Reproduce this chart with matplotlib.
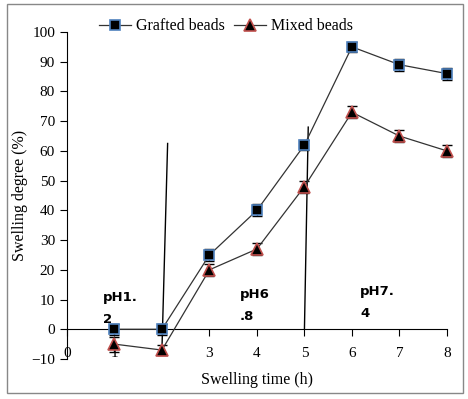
import numpy as np
import matplotlib.pyplot as plt
from matplotlib.patches import Rectangle

# swelling data
t = [1, 2, 3, 4, 5, 6, 7, 8]
grafted = [0, 0, 25, 40, 62, 95, 89, 86]
grafted_err = [1.8, 1.8, 2, 2, 1.8, 1.8, 2, 2]
mixed = [-5, -7, 20, 27, 48, 73, 65, 60]
mixed_err = [2.5, 1.8, 2, 2, 2, 2, 2, 2]

xticks = [0, 1, 2, 3, 4, 5, 6, 7, 8]
xtick_labels = ['0', '1', '', '3', '4', '5', '6', '7', '8']
yticks = [-10, 0, 10, 20, 30, 40, 50, 60, 70, 80, 90, 100]

# pH boundary lines (slightly slanted in the original)
ph_line1_x = [2.0, 2.12]
ph_line1_y = [-7, 62.5]
ph_line2_x = [5.0, 5.08]
ph_line2_y = [0, 68]

ph_labels = ['pH1.\n2', 'pH6\n.8', 'pH7.\n4']
ph_pos = [(0.76, 7.0), (3.64, 8.0), (6.17, 9.0)]

plt.rcParams['font.family'] = ['Liberation Serif', 'DejaVu Serif']

fig = plt.figure(figsize=(4.68, 3.99), dpi=100)
ax = fig.add_axes([0.143, 0.1003, 0.812, 0.8195])

ax.plot(ph_line1_x, ph_line1_y, color='black', lw=1, zorder=1)
ax.plot(ph_line2_x, ph_line2_y, color='black', lw=1, zorder=1)

ax.errorbar(t, grafted, yerr=grafted_err, fmt='none', ecolor='black',
            elinewidth=1, capsize=3.5, capthick=1, zorder=3, clip_on=False)
ax.errorbar(t, mixed, yerr=mixed_err, fmt='none', ecolor='black',
            elinewidth=1, capsize=3.5, capthick=1, zorder=3, clip_on=False)
ax.plot(t, grafted, color='#333333', lw=0.9, marker='s', ms=7,
        mfc='black', mec='#4F81BD', mew=1.2, label='Grafted beads',
        zorder=4, clip_on=False)
ax.plot(t, mixed, color='#333333', lw=0.9, marker='^', ms=8,
        mfc='black', mec='#C0504D', mew=1.2, label='Mixed beads',
        zorder=4, clip_on=False)

for lab, (px, py) in zip(ph_labels, ph_pos):
    ax.text(px, py, lab, family='DejaVu Sans', fontweight='bold',
            fontsize=9.5, va='center', ha='left', linespacing=1.9)

ax.set_xlim(0, 8)
ax.set_ylim(-10, 100)
ax.set_xticks(xticks)
ax.set_xticklabels(xtick_labels)
ax.set_yticks(yticks)

ax.spines['top'].set_visible(False)
ax.spines['right'].set_visible(False)
ax.spines['bottom'].set_position(('data', 0))
ax.tick_params(axis='x', direction='out', length=5, pad=8, labelsize=11)
ax.tick_params(axis='y', direction='out', length=5, labelsize=11)

ax.set_xlabel('Swelling time (h)', fontsize=11.5)
ax.xaxis.set_label_coords(0.5, -0.065, transform=ax.transAxes)
ax.xaxis.label.set_va('center')
ax.set_ylabel('Swelling degree (%)', fontsize=11.5)
ax.yaxis.set_label_coords(-0.123, 0.5)
ax.yaxis.label.set_va('center')

ax.legend(loc='upper center', bbox_to_anchor=(0.483, 0.97),
          bbox_transform=fig.transFigure, ncol=2, frameon=False,
          fontsize=11.5, handlelength=2.0, columnspacing=0.6,
          handletextpad=0.3, borderaxespad=0)

fig.patches.append(Rectangle((7 / 468, 6 / 399), 456 / 468, 389 / 399,
                             transform=fig.transFigure, fill=False,
                             edgecolor='#888888', lw=1))

fig.savefig('out.png', dpi=100)
